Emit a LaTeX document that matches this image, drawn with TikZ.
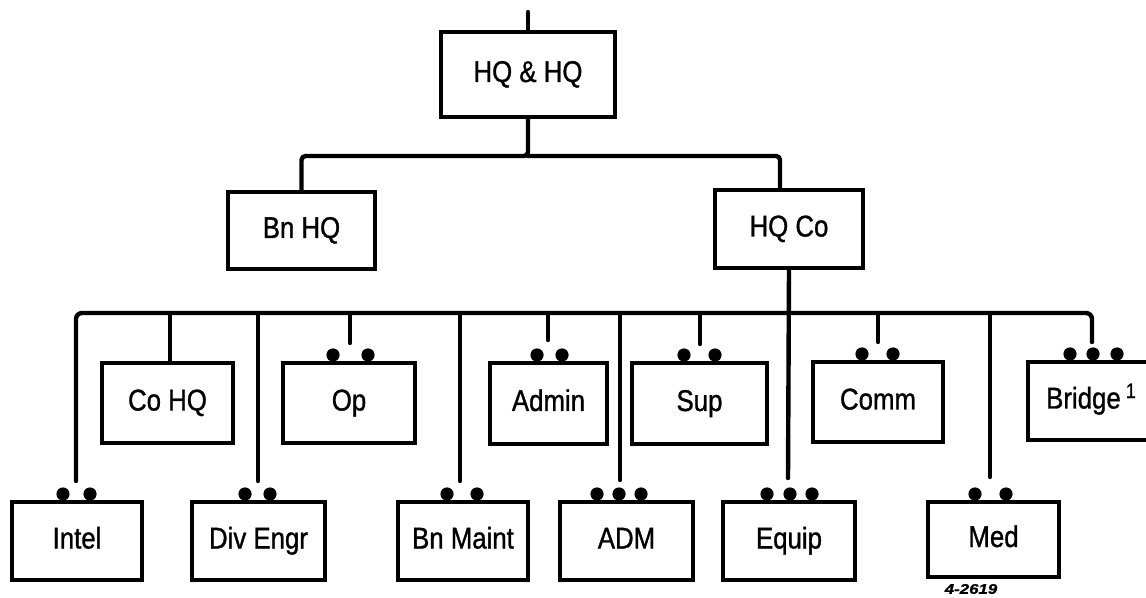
\documentclass[tikz,border=0pt]{standalone}
\usepackage{fontspec}
\setmainfont{Liberation Sans}[FakeStretch=0.86,FakeBold=1]
\begin{document}
\begin{tikzpicture}[x=0.5pt,y=-0.5pt,
  box/.style={draw, line width=1.7pt, inner sep=0pt, text height=10pt, text depth=2.5pt, font=\fontsize{15}{18}\selectfont},
  conn/.style={line width=2.2pt, line cap=round, line join=round},
  hand/.style={font=\fontsize{7}{8}\selectfont\bfseries\itshape, inner sep=0pt}]
\clip (0,0) rectangle (1146,598);
% boxes
\node[box, minimum width=87pt, minimum height=42.5pt] (top) at (528,74.5) {HQ \& HQ};
\node[box, minimum width=73.5pt, minimum height=38.5pt] (bnhq) at (301.5,230.5) {Bn HQ};
\node[box, minimum width=74pt, minimum height=39pt] (hqco) at (789,229) {HQ Co};
\node[box, minimum width=65.5pt, minimum height=40pt] (cohq) at (167.5,403) {Co HQ};
\node[box, minimum width=66pt, minimum height=40pt] (op) at (349,403) {Op};
\node[box, minimum width=58.5pt, minimum height=40.5pt] (admin) at (548.5,403.5) {Admin};
\node[box, minimum width=67.5pt, minimum height=40.5pt] (sup) at (699.5,403.5) {Sup};
\node[box, minimum width=65pt, minimum height=40pt] (comm) at (878,402) {Comm};
\node[box, minimum width=68.5pt, minimum height=39pt] (bridge) at (1096.5,401) {\hspace*{-5pt}Bridge\,\textsuperscript{1}};
\node[box, minimum width=65pt, minimum height=39pt] (intel) at (77,541) {Intel};
\node[box, minimum width=66.5pt, minimum height=39pt] (diveng) at (258.5,541) {Div Engr};
\node[box, minimum width=65pt, minimum height=39pt] (bnmaint) at (463,541) {Bn Maint};
\node[box, minimum width=66.5pt, minimum height=39pt] (adm) at (626.5,541) {ADM};
\node[box, minimum width=66pt, minimum height=39pt] (equip) at (789,541) {Equip};
\node[box, minimum width=65.5pt, minimum height=37.5pt] (med) at (993.5,539.5) {Med};
\node[hand] (code) at (971,589) {\scalebox{1.4}[1]{4-2619}};
% top connectors
\coordinate (topend) at (528,12);
\draw[conn] (topend) -- (top.north);
\coordinate (bus1) at (528,156);
\draw[conn, rounded corners=2pt] (top.south) -- (bus1) -| (bnhq.north);
\draw[conn, rounded corners=2pt] (bus1) -| ([xshift=-4.5pt]hqco.north);
% lower bus
\coordinate (busL) at (76,313);
\coordinate (busR) at (1092,313);
\coordinate (intel-e) at (76,481);
\coordinate (bridge-e) at (1092,342);
\draw[conn, rounded corners=3pt] (intel-e) -- (busL) -- (busR) -- (bridge-e);
% HQ Co down to Equip
\coordinate (equip-e) at (788,478);
\draw[conn] (hqco.south) -- (equip-e);
% upper row drops
\coordinate (cohq-b) at (170,313);
\draw[conn] (cohq-b) -- (cohq.north -| cohq-b);
\coordinate (op-b) at (350,313); \coordinate (op-e) at (350,343);
\draw[conn] (op-b) -- (op-e);
\coordinate (admin-b) at (548,313); \coordinate (admin-e) at (548,340);
\draw[conn] (admin-b) -- (admin-e);
\coordinate (sup-b) at (700,313); \coordinate (sup-e) at (700,344);
\draw[conn] (sup-b) -- (sup-e);
\coordinate (comm-b) at (878,313); \coordinate (comm-e) at (878,342);
\draw[conn] (comm-b) -- (comm-e);
% lower row drops
\coordinate (diveng-b) at (258,313); \coordinate (diveng-e) at (258,481);
\draw[conn] (diveng-b) -- (diveng-e);
\coordinate (bnmaint-b) at (460,313); \coordinate (bnmaint-e) at (460,481);
\draw[conn] (bnmaint-b) -- (bnmaint-e);
\coordinate (adm-b) at (620,313); \coordinate (adm-e) at (620,480);
\draw[conn] (adm-b) -- (adm-e);
\coordinate (med-b) at (990,313); \coordinate (med-e) at (990,477);
\draw[conn] (med-b) -- (med-e);
% dots
\foreach \x in {333,368} \fill (\x,355) circle (3.3pt);
\foreach \x in {537,562} \fill (\x,355) circle (3.3pt);
\foreach \x in {684,715} \fill (\x,355) circle (3.3pt);
\foreach \x in {862,893} \fill (\x,354) circle (3.3pt);
\foreach \x in {1070,1093,1117} \fill (\x,354) circle (3.3pt);
\foreach \x in {63,90} \fill (\x,494) circle (3.3pt);
\foreach \x in {245,270} \fill (\x,494) circle (3.3pt);
\foreach \x in {447,477} \fill (\x,494) circle (3.3pt);
\foreach \x in {597,619,641} \fill (\x,494) circle (3.3pt);
\foreach \x in {767,790,812} \fill (\x,494) circle (3.3pt);
\foreach \x in {975,1006} \fill (\x,494) circle (3.3pt);
\end{tikzpicture}
\end{document}
